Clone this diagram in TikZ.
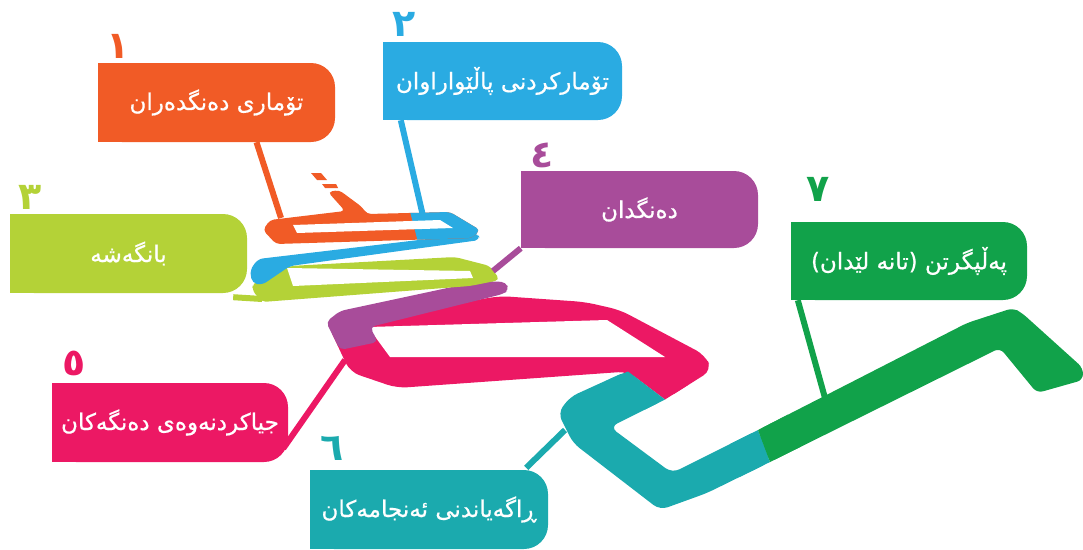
\documentclass[tikz,border=0pt]{standalone}
\usepackage{fontspec}
\usetikzlibrary{backgrounds}
\newfontfamily\arabicfont[Script=Arabic]{DejaVu Sans}
\newfontfamily\arabicboxfont[Script=Arabic,FakeBold=0.6]{DejaVu Sans}
\TeXXeTstate=1
\definecolor{cOr}{RGB}{241,91,38}
\definecolor{cBl}{RGB}{42,171,226}
\definecolor{cYg}{RGB}{180,210,55}
\definecolor{cPu}{RGB}{168,76,154}
\definecolor{cPi}{RGB}{236,24,100}
\definecolor{cTe}{RGB}{27,170,174}
\definecolor{cGr}{RGB}{17,162,74}
\tikzset{
  box/.style={fill=#1, rounded corners=24pt, minimum width=237pt, minimum height=79pt, inner sep=0pt, text=white, font=\arabicboxfont\fontsize{23}{26}\selectfont},
  num/.style={text=#1, font=\arabicfont\bfseries\fontsize{38}{40}\selectfont, inner sep=0pt},
  conn/.style={draw=#1, line width=6pt},
}
\begin{document}
\begin{tikzpicture}[x=1pt,y=-1pt]
\useasboundingbox (0,0) rectangle (1083,549);
% ---- path (ribbon) ----
% teal + green
\fill[cTe, rounded corners=8pt] (627,371) -- (664,400) -- (610,427) -- (672,473) -- (758,430) -- (770,462) -- (707,493) -- (660,510) -- (573,443) -- (558,413) -- (570,397) -- cycle;
\fill[cGr, rounded corners=6pt] (758,430) -- (967,323) -- (1013,308) -- (1022,313) -- (1083,368) -- (1083,380) -- (1037,393) -- (1000,348) -- (770,462) -- cycle;
% seams teal/green
\fill[cTe] (758,430) -- (770,462) -- (740,476.8) -- (730,444) -- cycle;
\fill[cGr] (758,430) -- (770,462) -- (800,447.1) -- (788,414.6) -- cycle;
% pink ring
\fill[cPi, rounded corners=10pt] (328,325) -- (500,296) -- (585,302) -- (620,310) -- (705,355) -- (712,370) -- (666,399) -- (628,371.5) -- (397,388) -- (350,372) -- cycle;
\fill[white] (368,327) -- (607,320) -- (665,357) -- (390,357) -- cycle;
% seams pink/teal
\fill[cPi] (628,371.5) -- (665,399.5) -- (688,385) -- (645,362) -- cycle;
\fill[cTe] (628,371.5) -- (665,399.5) -- (645,409.5) -- (610,379) -- cycle;
% purple band
\fill[cPu, rounded corners=5pt] (326,322) -- (340,311) -- (480,281) -- (506,282) -- (509,290) -- (503,294) -- (370,327) -- (378,342) -- (340,350) -- cycle;
% ring B
\fill[cYg, rounded corners=5pt] (253,283) -- (290,266) -- (455,257) -- (490,266) -- (500,280) -- (470,286) -- (262,302) -- (252,290) -- cycle;
\fill[white] (287,268) -- (470,271) -- (473,278) -- (293,286) -- cycle;
\fill[cBl, rounded corners=5pt] (478,233) -- (480,240) -- (290,266) -- (262,285) -- (252,283) -- (250,270) -- (258,259) -- cycle;
% ring A
\fill[cOr, rounded corners=4pt] (263,230) -- (270,220) -- (345,211) -- (328,192) -- (339,190) -- (362,207) -- (367,214) -- (450,212) -- (480,230) -- (472,238) -- (276,244) -- cycle;
\begin{scope}
\clip (407,200) -- (500,200) -- (500,250) -- (420,250) -- cycle;
\fill[cBl, rounded corners=4pt] (263,230) -- (270,220) -- (340,211) -- (367,214) -- (450,212) -- (480,230) -- (472,238) -- (276,244) -- cycle;
\end{scope}
\fill[white] (293,225) -- (440,220) -- (453,228) -- (297,233) -- cycle;
\fill[cOr] (311,173) -- (321,173) -- (327,180) -- (317,180) -- cycle;
\fill[cOr] (322,184) -- (336,184) -- (338,188) -- (325,188) -- cycle;
% ---- boxes ----
\node[box=cOr] (b1) at (216.5,102.5) {\beginR تۆماری دەنگدەران\endR};
\node[box=cBl, minimum width=239pt, minimum height=78pt] (b2) at (502.5,81) {\beginR تۆمارکردنی پاڵێواراوان\endR};
\node[box=cYg] (b3) at (128.5,253.5) {\beginR بانگەشە\endR};
\node[box=cPu, minimum height=77pt] (b4) at (639.5,209.5) {\beginR دەنگدان\endR};
\node[box=cPi, minimum width=236pt] (b5) at (170,422.5) {\beginR جیاکردنەوەی دەنگەکان\endR};
\node[box=cTe, minimum width=238pt] (b6) at (429,509.5) {\beginR ڕاگەیاندنی ئەنجامەکان\endR};
\node[box=cGr, minimum width=236pt, minimum height=78pt] (b7) at (909,261) {\beginR پەڵپگرتن (تانە لێدان)\endR};
\begin{scope}[on background layer]
\foreach \b/\c in {b1/cOr,b2/cBl,b3/cYg,b4/cPu,b5/cPi,b6/cTe,b7/cGr}
  \fill[\c] (\b.south west) rectangle ([xshift=40pt]\b.north west);
\end{scope}
% numbers
\node[num=cOr] (n1) at (118,46) {١};
\node[num=cBl] (n2) at (404,24) {٢};
\node[num=cYg] (n3) at (30,197) {٣};
\node[num=cPu] (n4) at (542,155) {٤};
\node[num=cPi] (n5) at (74,363) {٥};
\node[num=cTe] (n6) at (332,448) {٦};
\node[num=cGr] (n7) at (818,189) {٧};
% connectors
\coordinate (p1) at (281,218); \coordinate (p2) at (423,216);
\coordinate (p3) at (262,299); \coordinate (p4) at (493,271);
\coordinate (p5) at (345,360); \coordinate (p6) at (565,430);
\coordinate (p7) at (825,398);
\draw[conn=cOr] (b1.south) ++(40pt,0) -- (p1);
\draw[conn=cBl] (b2.south west) ++(18pt,0) -- (p2);
\draw[conn=cYg] (b3.south east) ++(-14pt,-4pt) -- (p3);
\draw[conn=cPu] (b4.south west) -- (p4);
\draw[conn=cPi] (b5.east) ++(-5pt,-26pt) -- (p5);
\draw[conn=cTe] (b6.north east) ++(-22pt,2pt) -- (p6);
\draw[conn=cGr] (b7.south west) ++(7pt,0) -- (p7);
\end{tikzpicture}
\end{document}
